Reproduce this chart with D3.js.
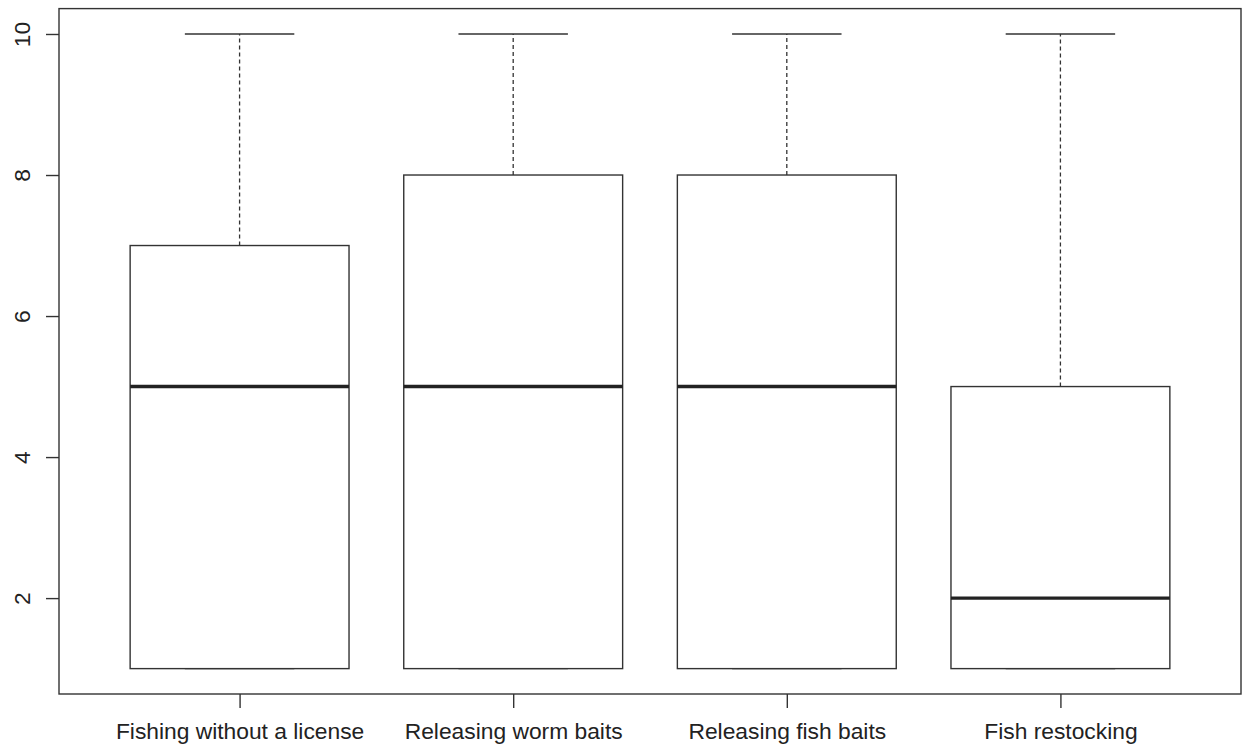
<!DOCTYPE html>
<html>
<head>
<meta charset="utf-8">
<script src="https://cdnjs.cloudflare.com/ajax/libs/d3/7.8.5/d3.min.js"></script>
<style>
  body { margin: 0; background: #fff; }
  text { font-family: "Liberation Sans", Arial, sans-serif; fill: #222; }
</style>
</head>
<body>
<svg id="chart"></svg>
<script>
// box summaries
const categories = ['Fishing without a license', 'Releasing worm baits', 'Releasing fish baits', 'Fish restocking'];
const whiskLow = [1, 1, 1, 1];
const q1 = [1, 1, 1, 1];
const medians = [5, 5, 5, 2];
const q3 = [7, 8, 8, 5];
const whiskHigh = [10, 10, 10, 10];
const yTicks = [2, 4, 6, 8, 10];

const width = 1243, height = 751;
const plotLeft = 59, plotRight = 1241, plotTop = 8.6, plotBottom = 694;
const stroke = '#333';
const fontSize = '22.8px';

const svg = d3.select('#chart').attr('width', width).attr('height', height);

// R style: xlim 0.5..n+0.5 padded by 4%
const x = d3.scaleLinear().domain([0.34, 4.66]).range([plotLeft, plotRight]);
const y = d3.scaleLinear().domain([0.64, 10.36]).range([plotBottom, plotTop]);
const boxW = 0.8, capW = 0.4;

const boxes = categories.map((c, i) => ({
  name: c, pos: i + 1,
  lo: whiskLow[i], q1: q1[i], med: medians[i], q3: q3[i], hi: whiskHigh[i]
}));

const g = svg.append('g');

boxes.forEach((d) => {
  const cx = x(d.pos);
  // upper whisker
  g.append('line')
    .attr('x1', cx).attr('x2', cx)
    .attr('y1', y(d.q3)).attr('y2', y(d.hi))
    .attr('stroke', stroke).attr('stroke-width', 1.3)
    .attr('stroke-dasharray', '4,3');
  // lower whisker
  if (d.lo < d.q1) {
    g.append('line')
      .attr('x1', cx).attr('x2', cx)
      .attr('y1', y(d.lo)).attr('y2', y(d.q1))
      .attr('stroke', stroke).attr('stroke-width', 1.3)
      .attr('stroke-dasharray', '4,3');
  }
  // caps
  [d.lo, d.hi].forEach((v) => {
    g.append('line')
      .attr('x1', x(d.pos - capW / 2)).attr('x2', x(d.pos + capW / 2))
      .attr('y1', y(v)).attr('y2', y(v))
      .attr('stroke', stroke).attr('stroke-width', 1.4);
  });
  // box
  g.append('rect')
    .attr('x', x(d.pos - boxW / 2))
    .attr('y', y(d.q3))
    .attr('width', x(d.pos + boxW / 2) - x(d.pos - boxW / 2))
    .attr('height', y(d.q1) - y(d.q3))
    .attr('fill', '#fff')
    .attr('stroke', stroke).attr('stroke-width', 1.4);
  // median
  g.append('line')
    .attr('x1', x(d.pos - boxW / 2)).attr('x2', x(d.pos + boxW / 2))
    .attr('y1', y(d.med)).attr('y2', y(d.med))
    .attr('stroke', '#222').attr('stroke-width', 3.4);
});

// frame
svg.append('rect')
  .attr('x', plotLeft).attr('y', plotTop)
  .attr('width', plotRight - plotLeft).attr('height', plotBottom - plotTop)
  .attr('fill', 'none').attr('stroke', stroke).attr('stroke-width', 1.4);

// y axis
const yAxis = svg.append('g')
  .attr('transform', `translate(${plotLeft},0)`)
  .call(d3.axisLeft(y).tickValues(yTicks).tickSize(13).tickPadding(0).tickFormat(d3.format('d')));
yAxis.select('.domain').remove();
yAxis.selectAll('.tick line').attr('stroke', stroke).attr('stroke-width', 1.4);
yAxis.selectAll('.tick text')
  .attr('x', 0).attr('y', 0).attr('dy', 0)
  .attr('text-anchor', 'middle')
  .attr('transform', 'translate(-29,0) rotate(-90)')
  .style('font-size', fontSize);

// x axis
const xAxis = svg.append('g')
  .attr('transform', `translate(0,${plotBottom})`)
  .call(d3.axisBottom(x).tickValues(boxes.map((d) => d.pos)).tickSize(14).tickPadding(0)
    .tickFormat((v) => categories[v - 1]));
xAxis.select('.domain').remove();
xAxis.selectAll('.tick line').attr('stroke', stroke).attr('stroke-width', 1.4);
xAxis.selectAll('.tick text')
  .attr('y', 45).attr('dy', 0)
  .style('font-size', fontSize);
</script>
</body>
</html>
